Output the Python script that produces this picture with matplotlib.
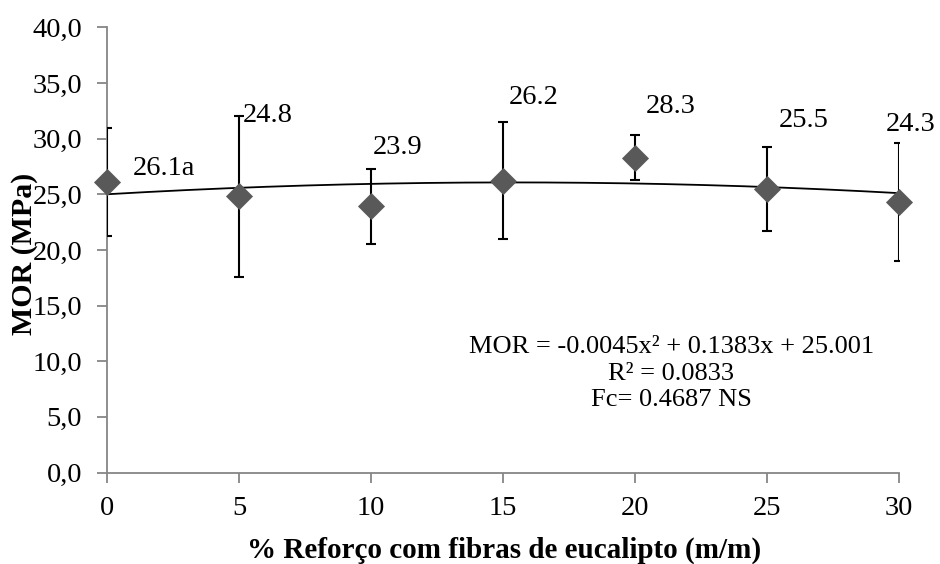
import numpy as np
import matplotlib
matplotlib.use("Agg")
import matplotlib.pyplot as plt

plt.rcParams["font.family"] = ["Liberation Serif", "DejaVu Serif"]

# mean MOR values and standard deviations per fiber content
fiber = [0, 5, 10, 15, 20, 25, 30]
mor = [26.1, 24.8, 23.9, 26.2, 28.3, 25.5, 24.3]
mor_sd = [4.85, 7.2, 3.4, 5.25, 2.05, 3.77, 5.3]
labels = ["26.1a", "24.8", "23.9", "26.2", "28.3", "25.5", "24.3"]
label_x = [0.98, 5.14, 10.05, 15.23, 20.39, 25.45, 29.5]
label_y = [27.35, 32.1, 29.2, 33.7, 32.9, 31.6, 31.3]

# quadratic trendline coefficients (as shown in the chart)
coef = [-0.0045, 0.1383, 25.001]

yticks = [0, 5, 10, 15, 20, 25, 30, 35, 40]
ytick_labels = ["0,0", "5,0", "10,0", "15,0", "20,0", "25,0", "30,0", "35,0", "40,0"]
xticks = [0, 5, 10, 15, 20, 25, 30]

fig = plt.figure(figsize=(9.4, 5.64), dpi=100)
ax = fig.add_axes([0.1141, 0.1622, 0.9564 - 0.1141, 0.9516 - 0.1622])

xs = np.linspace(0, 30, 200)
ax.plot(xs, np.polyval(coef, xs), color="black", lw=1.3, zorder=2)

ax.errorbar(fiber, mor, yerr=mor_sd, fmt="none", ecolor="black",
            elinewidth=1.5, capsize=3.8, capthick=1.5, zorder=3)
ax.scatter(fiber, mor, marker="D", s=190, color="#595959", zorder=4,
           clip_on=False, linewidths=0)

for lx, ly, t in zip(label_x, label_y, labels):
    ax.text(lx, ly, t, fontsize=20.5, ha="left", va="center")

ax.set_xlim(0, 30)
ax.set_ylim(0, 40)
ax.set_xticks(xticks)
ax.set_xticklabels([str(v) for v in xticks])
ax.set_yticks(yticks)
ax.set_yticklabels(ytick_labels)

for side in ["top", "right"]:
    ax.spines[side].set_visible(False)
for side in ["left", "bottom"]:
    ax.spines[side].set_color("#868686")
    ax.spines[side].set_linewidth(1.3)

ax.tick_params(axis="both", colors="#868686", width=1.3, length=7,
               labelsize=20.5, labelcolor="black")
ax.tick_params(axis="y", pad=11)
ax.tick_params(axis="x", pad=10)

fig.text(0.026, 0.5505, "MOR (MPa)", rotation=90, fontsize=21.5,
         fontweight="bold", ha="center", va="center")
fig.text(0.536, 0.0115, "% Reforço com fibras de eucalipto (m/m)",
         fontsize=21, fontweight="bold", ha="center", va="baseline")

fig.text(0.714, 0.385, "MOR = -0.0045x² + 0.1383x + 25.001",
         fontsize=19, ha="center", va="center")
fig.text(0.714, 0.337, "R² = 0.0833", fontsize=19, ha="center", va="center")
fig.text(0.714, 0.291, "Fc= 0.4687 NS", fontsize=19, ha="center", va="center")

fig.savefig("out.png", dpi=100)
